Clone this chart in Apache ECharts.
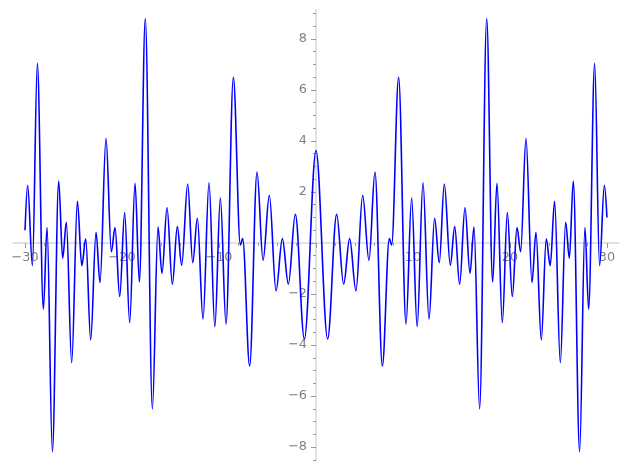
<!DOCTYPE html>
<html>
<head>
<meta charset="utf-8">
<script src="https://cdn.jsdelivr.net/npm/echarts@6/dist/echarts.min.js"></script>
<style>
html,body{margin:0;padding:0;background:#fff;}
#c{width:627px;height:470px;}
</style>
</head>
<body>
<div id="c"></div>
<script>
// Local extrema of the curve (x, y)
const xValues = [
  -30, -29.73, -29.24, -28.73, -28.11, -27.73, -27.18, -26.53, -26.12, -25.74,
  -25.19, -24.6, -24.15, -23.74, -23.23, -22.68, -22.27, -21.65, -21.1, -20.72,
  -20.24, -19.73, -19.21, -18.66, -18.21, -17.6, -16.87, -16.29, -15.88, -15.36,
  -14.81, -14.3, -13.85, -13.23, -12.71, -12.23, -11.65, -11.03, -10.43, -9.86,
  -9.28, -8.52, -7.8, -7.56, -6.84, -6.08, -5.46, -4.81, -4.12, -3.47,
  -2.85, -2.13, -1.2,
  0,
  1.2, 2.13, 2.85, 3.47, 4.12, 4.81, 5.46, 6.08, 6.84, 7.56,
  7.8, 8.52, 9.28, 9.86, 10.43, 11.03, 11.65, 12.23, 12.71, 13.23,
  13.85, 14.3, 14.81, 15.36, 15.88, 16.29, 16.87, 17.6, 18.21, 18.66,
  19.21, 19.73, 20.24, 20.72, 21.1, 21.65, 22.27, 22.68, 23.23, 23.74,
  24.15, 24.6, 25.19, 25.74, 26.12, 26.53, 27.18, 27.73, 28.11, 28.73,
  29.24, 29.73, 30
];
const yValues = [
  0.5, 2.26, -0.89, 7.04, -2.59, 0.6, -8.18, 2.43, -0.6, 0.81,
  -4.69, 1.63, -0.89, 0.16, -3.8, 0.42, -1.55, 4.1, -0.34, 0.6,
  -2.1, 1.19, -3.12, 2.34, -1.53, 8.8, -6.5, 0.62, -1.19, 1.38,
  -1.62, 0.64, -0.87, 2.31, -0.77, 0.97, -2.98, 2.36, -3.28, 1.76,
  -3.17, 6.49, -0.08, 0.17, -4.82, 2.78, -0.68, 1.87, -1.88, 0.17,
  -1.61, 1.12, -3.76,
  3.62,
  -3.76, 1.12, -1.61, 0.17, -1.88, 1.87, -0.68, 2.78, -4.82, 0.17,
  -0.08, 6.49, -3.17, 1.76, -3.28, 2.36, -2.98, 0.97, -0.77, 2.31,
  -0.87, 0.64, -1.62, 1.38, -1.19, 0.62, -6.5, 8.8, -1.53, 2.34,
  -3.12, 1.19, -2.1, 0.6, -0.34, 4.1, -1.55, 0.42, -3.8, 0.16,
  -0.89, 1.63, -4.69, 0.81, -0.6, 2.43, -8.18, 0.6, -2.59, 7.04,
  -0.89, 2.26, 1.0
];
const xMajorTicks = [-30, -20, -10, 0, 10, 20, 30];
const xLabels = [-30, -20, -10, 10, 20, 30];
const xMinorTicks = [-30,-28,-26,-24,-22,-20,-18,-16,-14,-12,-10,-8,-6,-4,-2,0,2,4,6,8,10,12,14,16,18,20,22,24,26,28,30];
const yMajorTicks = [-8, -6, -4, -2, 0, 2, 4, 6, 8];
const yLabels = [-8, -6, -4, -2, 2, 4, 6, 8];
const yMinorTicks = [-8.5,-8,-7.5,-7,-6.5,-6,-5.5,-5,-4.5,-4,-3.5,-3,-2.5,-2,-1.5,-1,-0.5,0,0.5,1,1.5,2,2.5,3,3.5,4,4.5,5,5.5,6,6.5,7,7.5,8,8.5,9];

const data = xValues.map((x, i) => [x, yValues[i]]);
const fmt = v => String(v).replace('-', '\u2212');
const labelColor = '#808080';
const tickColor = '#9a9a9a';
const lineColor = '#e2e2e2';
const font = 'DejaVu Sans';
const X_MIN = -31.2, X_MAX = 31.2, Y_MIN = -8.52, Y_MAX = 9.14;

// plot box in pixels
const W = 627, H = 470;
const L = 13.4, R = 8.4, T = 9.75, B = 9.6;
const plotW = W - L - R, plotH = H - T - B;
const zeroX = L + (0 - X_MIN) / (X_MAX - X_MIN) * plotW;     // pixel of x = 0
const zeroY = T + (Y_MAX - 0) / (Y_MAX - Y_MIN) * plotH;     // pixel of y = 0

const base = {containLabel: false, outerBoundsMode: 'none'};
const gridMain = Object.assign({left: L, right: R, top: T, bottom: B}, base);
const gridX = Object.assign({left: L, right: R, top: T, bottom: H - zeroY}, base);   // bottom edge at y = 0
const gridY = Object.assign({left: zeroX, right: R, top: T, bottom: B}, base);       // left edge at x = 0

const hiddenAxis = (gi) => ({gridIndex: gi, type: 'value', min: 0, max: 1, show: false});

const chart = echarts.init(document.getElementById('c'), null, {renderer: 'canvas'});
chart.setOption({
  animation: false,
  backgroundColor: '#ffffff',
  grid: [gridMain, gridX, gridX, gridY, gridY],
  xAxis: [
    {gridIndex: 0, type: 'value', min: X_MIN, max: X_MAX, show: false},
    {
      gridIndex: 1, type: 'value', min: X_MIN, max: X_MAX, position: 'bottom',
      splitLine: {show: false},
      axisLine: {show: true, onZero: false, lineStyle: {color: lineColor, width: 2}},
      axisTick: {show: true, length: 5, customValues: xMajorTicks, lineStyle: {color: tickColor, width: 1}},
      axisLabel: {show: true, customValues: xLabels, formatter: fmt, color: labelColor, fontFamily: font, fontSize: 12.8, margin: 8}
    },
    {
      gridIndex: 2, type: 'value', min: X_MIN, max: X_MAX, position: 'bottom',
      splitLine: {show: false},
      axisLine: {show: false, onZero: false},
      axisTick: {show: true, length: 3, customValues: xMinorTicks, lineStyle: {color: tickColor, width: 1}},
      axisLabel: {show: false}
    },
    hiddenAxis(3),
    hiddenAxis(4)
  ],
  yAxis: [
    {gridIndex: 0, type: 'value', min: Y_MIN, max: Y_MAX, show: false},
    hiddenAxis(1),
    hiddenAxis(2),
    {
      gridIndex: 3, type: 'value', min: Y_MIN, max: Y_MAX, position: 'left',
      splitLine: {show: false},
      axisLine: {show: true, onZero: false, lineStyle: {color: lineColor, width: 2}},
      axisTick: {show: true, length: 5, customValues: yMajorTicks, lineStyle: {color: tickColor, width: 1}},
      axisLabel: {show: true, customValues: yLabels, formatter: fmt, color: labelColor, fontFamily: font, fontSize: 12.8, margin: 9}
    },
    {
      gridIndex: 4, type: 'value', min: Y_MIN, max: Y_MAX, position: 'left',
      splitLine: {show: false},
      axisLine: {show: false, onZero: false},
      axisTick: {show: true, length: 3, customValues: yMinorTicks, lineStyle: {color: tickColor, width: 1}},
      axisLabel: {show: false}
    }
  ],
  series: [
    {
      type: 'line',
      xAxisIndex: 0, yAxisIndex: 0,
      data: data,
      showSymbol: false,
      smooth: 0.35,
      smoothMonotone: 'x',
      lineStyle: {color: '#0000ff', width: 1.6},
      z: 5
    },
    {type: 'line', xAxisIndex: 1, yAxisIndex: 1, data: [], showSymbol: false},
    {type: 'line', xAxisIndex: 2, yAxisIndex: 2, data: [], showSymbol: false},
    {type: 'line', xAxisIndex: 3, yAxisIndex: 3, data: [], showSymbol: false},
    {type: 'line', xAxisIndex: 4, yAxisIndex: 4, data: [], showSymbol: false}
  ]
});
</script>
</body>
</html>
